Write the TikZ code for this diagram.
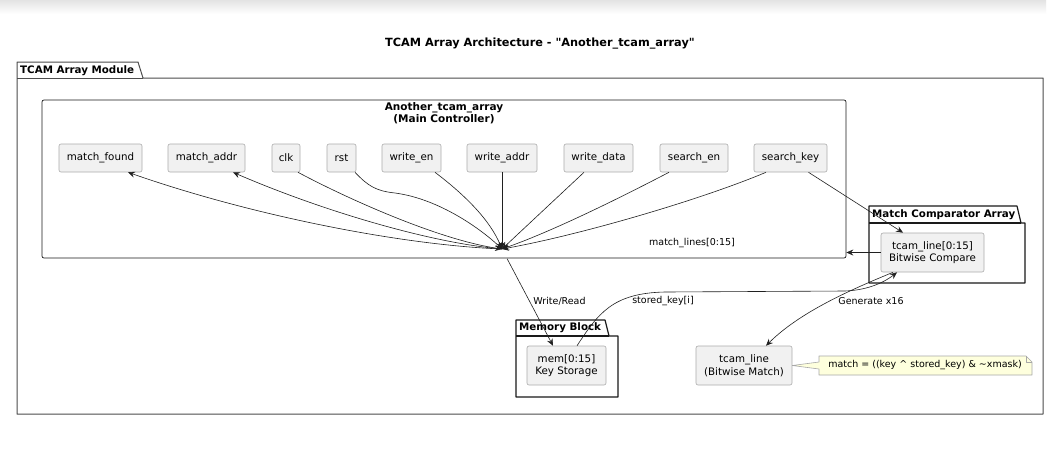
\documentclass[tikz,border=0pt]{standalone}
\usepackage{fontspec}
\setmainfont{DejaVu Sans}
\usetikzlibrary{arrows.meta,calc}
\definecolor{nodefill}{HTML}{F1F1F1}
\definecolor{nodeline}{HTML}{ABABAB}
\definecolor{notefill}{HTML}{FEFFDD}
\definecolor{noteline}{HTML}{A8A8A8}
\definecolor{lineclr}{HTML}{202020}
\definecolor{pkgline}{HTML}{1A1A1A}
\tikzset{
  port/.style={draw=nodeline, fill=nodefill, rounded corners=2pt, line width=0.6pt,
    font=\fontsize{10.3}{12.6}\selectfont, inner sep=0pt, minimum height=28pt, align=center},
  block/.style={port, minimum height=39pt},
  ctrlbox/.style={draw=pkgline, rounded corners=2pt, line width=0.7pt, inner sep=0pt},
  pkgshape/.style={draw=pkgline, line width=1.2pt, line join=round},
  outershape/.style={draw=black!70, line width=1pt, line join=round},
  pkglabel/.style={font=\fontsize{10.3}{12.6}\selectfont\bfseries, inner sep=0pt, anchor=west},
  titletext/.style={font=\fontsize{10.5}{12.6}\selectfont\bfseries, inner sep=0pt, align=center},
  maintitle/.style={font=\fontsize{11.3}{13.6}\selectfont\bfseries, inner sep=0pt},
  elabel/.style={font=\fontsize{9.5}{11.5}\selectfont, inner sep=0pt},
  arr/.style={-{Stealth[length=7pt,width=6pt,inset=2.5pt]}, line width=0.6pt, draw=lineclr},
  notestyle/.style={draw=noteline, fill=notefill, line width=0.6pt, line join=round},
}
\begin{document}
\begin{tikzpicture}[x=1pt,y=-1pt]
\useasboundingbox (0,0) rectangle (1062,475);
\fill[white] (0,0) rectangle (1062,475);
\shade[top color=black!11, bottom color=white] (0,0) rectangle (1046,14);

% title
\node[maintitle] (title) at (540,44) {TCAM Array Architecture - \textquotedbl Another\_tcam\_array\textquotedbl};

% outer package
\draw[outershape] (17,414) -- (17,62) -- (138,62) -- (143,78) -- (1043,78) -- (1043,414) -- cycle;
\draw[outershape] (17,78) -- (143,78);
\node[pkglabel] (lblouter) at (20,70.5) {TCAM Array Module};

% controller box
\node[ctrlbox, minimum width=804pt, minimum height=158pt] (ctrl) at (444,179) {};
\node[titletext] (ctrltitle) at (444,113) {Another\_tcam\_array\\(Main Controller)};

% ports
\node[port, minimum width=83pt] (mf) at (100.5,158) {match\_found};
\node[port, minimum width=77pt] (ma) at (206.5,158) {match\_addr};
\node[port, minimum width=28pt] (clk) at (286,158) {clk};
\node[port, minimum width=29pt] (rst) at (341.5,158) {rst};
\node[port, minimum width=59pt] (wen) at (411.5,158) {write\_en};
\node[port, minimum width=70pt] (wad) at (502,158) {write\_addr};
\node[port, minimum width=69pt] (wda) at (598.5,158) {write\_data};
\node[port, minimum width=68pt] (sen) at (694,158) {search\_en};
\node[port, minimum width=73pt] (skey) at (790.5,158) {search\_key};

\coordinate (hub) at (502,249);

% match comparator package
\draw[pkgshape] (869,283) -- (869,206) -- (1017,206) -- (1021,223) -- (1025,223) -- (1025,283) -- cycle;
\draw[pkgshape] (869,223) -- (1021,223);
\node[pkglabel] (lblmc) at (872,214.5) {Match Comparator Array};
\node[block, minimum width=103pt] (tc) at (932.5,252.5) {tcam\_line[0:15]\\Bitwise Compare};

% memory package
\draw[pkgshape] (516,397) -- (516,320) -- (605,320) -- (609,336) -- (618,336) -- (618,397) -- cycle;
\draw[pkgshape] (516,336) -- (609,336);
\node[pkglabel] (lblmem) at (519,328) {Memory Block};
\node[block, minimum width=79pt] (mem) at (566.5,365.5) {mem[0:15]\\Key Storage};

% bitwise match
\node[block, minimum width=96pt] (bm) at (744,365.5) {tcam\_line\\(Bitwise Match)};

% note
\draw[notestyle] (819,356) -- (1026,356) -- (1032,362) -- (1032,375) -- (819,375) -- (819,369) -- (bm.east) -- (819,362) -- cycle;
\draw[notestyle, fill=none] (1026,356) -- (1026,362) -- (1032,362);
\node[elabel] (note) at (925,365.5) {match = ((key \^{} stored\_key) \& \textasciitilde xmask)};

% outputs
\draw[arr] (hub) .. controls (400,245) and (250,215) .. ([xshift=27.5pt]mf.south);
\draw[arr] (hub) .. controls (430,243) and (320,210) .. ([xshift=26.5pt]ma.south);
% inputs
\draw[arr] ([xshift=12pt]clk.south) .. controls (350,200) and (440,240) .. (hub);
\draw[arr] ([xshift=13.5pt]rst.south) .. controls (368,186) and (376,191) .. (395,193) .. controls (440,199) and (482,230) .. (hub);
\draw[arr] ([xshift=23.5pt]wen.south) .. controls (465,195) and (490,220) .. (hub);
\draw[arr] (wad.south) -- (hub);
\draw[arr] ([xshift=-14.5pt]wda.south) -- (hub);
\draw[arr] ([xshift=-25pt]sen.south) .. controls (610,203) and (550,232) .. (hub);
\draw[arr] ([xshift=-24.5pt]skey.south) .. controls (700,200) and (580,235) .. (hub);
\draw[arr] ([xshift=18pt]skey.south) -- ([xshift=-29.5pt]tc.north);

% match lines
\draw[arr] (tc.west) -- (tc.west -| ctrl.east);
\node[elabel] (lblml) at (692,243) {match\_lines[0:15]};

% write/read
\draw[arr, shorten <=11pt] (hub) -- ([xshift=-13.5pt]mem.north);
\node[elabel] (lblwr) at (559.5,301) {Write/Read};

% stored key
\draw[arr] ([xshift=10.5pt]mem.north) .. controls (598,314) and (612,293) .. (665,292) -- (845,291) .. controls (870,290) and (886,281) .. ([xshift=-35.5pt]tc.south);
\node[elabel] (lblsk) at (663,301) {stored\_key[i]};

% generate
\draw[arr] ([xshift=-39.5pt]tc.south) .. controls (850,290) and (800,312) .. ([xshift=22pt]bm.north);
\node[elabel] (lblgen) at (871,301) {Generate x16};
\end{tikzpicture}
\end{document}
